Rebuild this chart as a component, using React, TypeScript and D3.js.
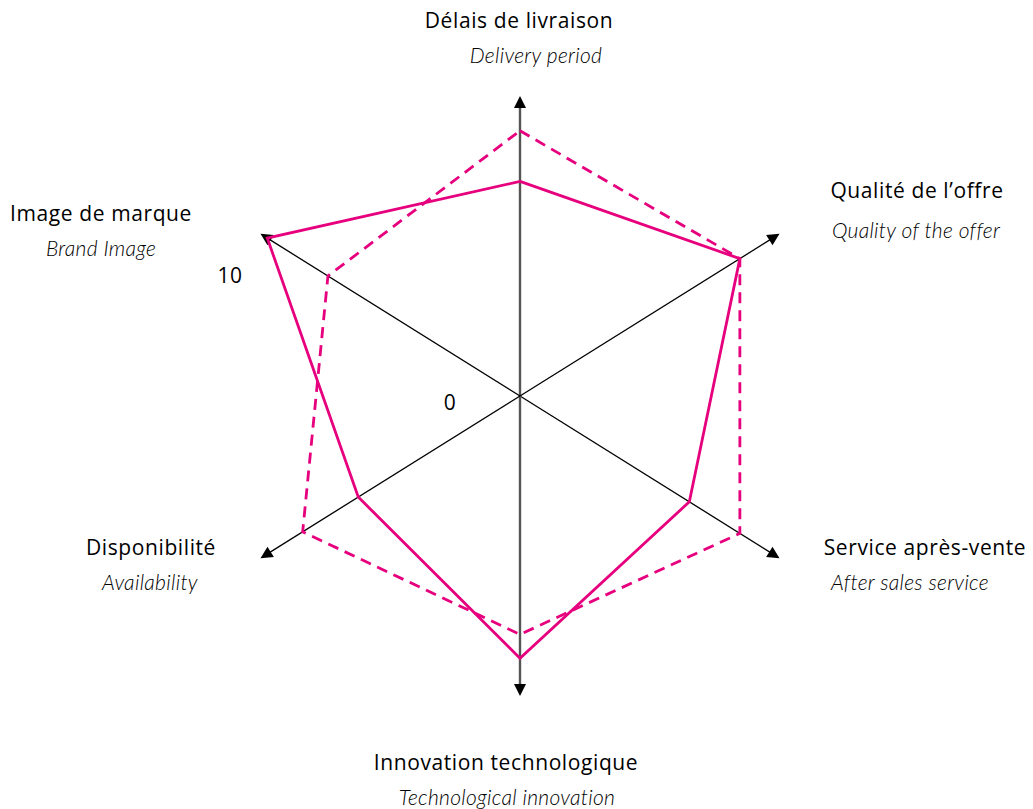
import React from "react";
import * as d3 from "d3";

const axesFr = ["Délais de livraison", "Qualité de l\u2019offre", "Service après-vente", "Innovation technologique", "Disponibilité", "Image de marque"];
const axesEn = ["Delivery period", "Quality of the offer", "After sales service", "Technological innovation", "Availability", "Brand Image"];
const axisAngles = [90, 32, -32, -90, -148, 148];
const solidValues = [7.2, 8.7, 6.7, 8.8, 6.4, 10];
const dashedValues = [8.9, 8.7, 8.7, 8.0, 8.6, 7.6];
const scaleTicks = ["0", "10"];

const W = 1033;
const H = 809;
const cx = 520;
const cy = 396;
const PINK = "#E6007E";

const labelPos = [
  { x: 519, y: 28, sx: 536, sy: 63 },
  { x: 917, y: 198, sx: 916, sy: 238 },
  { x: 925, y: 555, sx: 910, sy: 590 },
  { x: 506, y: 770, sx: 507, sy: 805 },
  { x: 151, y: 555, sx: 150, sy: 590 },
  { x: 101, y: 221, sx: 101, sy: 256 },
];

export default function App() {
  const r = d3.scaleLinear().domain([0, 10]).range([0, 298]);
  const axisLen = (i: number) => (i === 0 || i === 3 ? 300 : 306);
  const pt = (i: number, v: number): [number, number] => {
    const a = (axisAngles[i] * Math.PI) / 180;
    return [cx + Math.cos(a) * v, cy - Math.sin(a) * v];
  };
  const line = d3.line<[number, number]>().curve(d3.curveLinearClosed);
  const solidPts = solidValues.map((v, i) => pt(i, r(v)));
  const dashedPts = dashedValues.map((v, i) => pt(i, r(v)));

  const arrow = (i: number) => {
    const a = (axisAngles[i] * Math.PI) / 180;
    const L = axisLen(i);
    const [tx, ty] = pt(i, L);
    const ux = Math.cos(a), uy = -Math.sin(a);
    const px = -uy, py = ux;
    const bl = 12, hw = 6;
    const bx = tx - ux * bl, by = ty - uy * bl;
    return `M${tx},${ty}L${bx + px * hw},${by + py * hw}L${bx - px * hw},${by - py * hw}Z`;
  };

  const frFont = { fontFamily: "Open Sans, sans-serif", fontSize: 21, letterSpacing: 0.6 };
  const enFont = { fontFamily: "Lato, sans-serif", fontStyle: "italic", fontWeight: 300, fontSize: 21, letterSpacing: 0.3 };

  return (
    <svg width={W} height={H} style={{ position: "absolute", left: 0, top: 0, background: "#fff" }}>
      {axisAngles.map((_, i) => {
        const [x2, y2] = pt(i, axisLen(i) - 10);
        const vertical = i === 0 || i === 3;
        return (
          <g key={"ax" + i}>
            <line x1={cx} y1={cy} x2={x2} y2={y2} stroke={vertical ? "#555" : "#000"} strokeWidth={vertical ? 2.4 : 1.3} />
            <path d={arrow(i)} fill="#000" />
          </g>
        );
      })}
      <path d={line(dashedPts) || ""} fill="none" stroke={PINK} strokeWidth={2.8} strokeDasharray="11,7" />
      <path d={line(solidPts) || ""} fill="none" stroke={PINK} strokeWidth={2.8} strokeLinejoin="miter" />
      <text x={450} y={410} {...frFont} textAnchor="middle" fill="#000">{scaleTicks[0]}</text>
      <text x={230} y={283} {...frFont} textAnchor="middle" fill="#000">{scaleTicks[1]}</text>
      {axesFr.map((t, i) => (
        <g key={"lb" + i}>
          <text x={labelPos[i].x} y={labelPos[i].y} {...frFont} textAnchor="middle" fill="#000">{t}</text>
          <text x={labelPos[i].sx} y={labelPos[i].sy} {...(enFont as any)} textAnchor="middle" fill="#000">{axesEn[i]}</text>
        </g>
      ))}
    </svg>
  );
}
